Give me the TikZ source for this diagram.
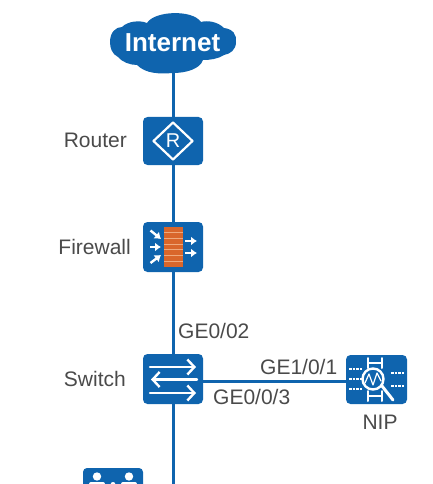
\documentclass[tikz,border=0pt]{standalone}
\usepackage{fontspec}
\setmainfont{Liberation Sans}
\usetikzlibrary{arrows.meta}
\definecolor{hw}{HTML}{0F64AE}
\definecolor{txt}{HTML}{4A4A4A}
\definecolor{brick}{HTML}{D9662B}
\definecolor{mortar}{HTML}{EFA97C}
\tikzset{
  px/.style={x=1pt,y=-1pt},
  link/.style={draw=hw,line width=3pt},
  devbox/.style={fill=hw,rounded corners=4.5pt,inner sep=0pt,minimum width=60pt,minimum height=49pt},
  lbl/.style={text=txt,font=\fontsize{21}{24}\selectfont,inner sep=0pt},
  glyph/.style={draw=white,line width=2pt,line cap=round,line join=round},
  garrow/.style={glyph,line width=2.4pt,-{Straight Barb[length=7pt,width=15pt,line width=2.4pt]}},
  farrow/.style={draw=white,line width=2.4pt,-{Latex[length=6pt,width=9pt]}},
  dotsline/.style={draw=white,line width=2.6pt,dash pattern=on 2.6pt off 1pt}
}
\begin{document}
\begin{tikzpicture}[px]
\useasboundingbox (0,0) rectangle (432,484);
% cloud
\fill[hw] (110,42) .. controls (110,32) and (116,27) .. (122,27)
  .. controls (128,21) and (140,20) .. (147,23)
  .. controls (154,11) and (192,9) .. (201,22)
  .. controls (208,20) and (218,22) .. (224,28)
  .. controls (233,29) and (237,35) .. (236,42)
  .. controls (236,50) and (230,54) .. (224,55)
  .. controls (218,59) and (210,60) .. (203,60)
  .. controls (200,69) and (186,73) .. (173,73)
  .. controls (160,74) and (146,74) .. (137,65)
  .. controls (130,65) and (122,62) .. (118,57)
  .. controls (112,54) and (110,48) .. (110,42) -- cycle;
\node[inner sep=0pt,text=white,font=\fontsize{26}{28}\selectfont\bfseries] (internet) at (172.5,42.5) {Internet};
% device boxes
\node[devbox,minimum height=48pt] (router) at (173,141) {};
\node[devbox,minimum height=50pt] (firewall) at (173,247) {};
\node[devbox,minimum height=50pt] (switch) at (173,379) {};
\node[devbox,minimum width=61pt] (nip) at (376.5,379.5) {};
\fill[hw,rounded corners=4pt] (83,468) rectangle (143,492);
\coordinate (bottom) at (173,484);
% connectors
\draw[link] (router |- internet.south) -- (router);
\draw[link] (router) -- (firewall);
\draw[link] (firewall) -- (switch);
\draw[link] (switch) -- (bottom);
\draw[link] (switch.east |- 0,381) -- (nip.west |- 0,381);
% router glyph
\draw[glyph,line width=2.2pt] (173,122.5) -- (192.5,141) -- (173,159.5) -- (153.5,141) -- cycle;
\node[inner sep=0pt,text=white,font=\fontsize{20}{22}\selectfont] (rletter) at (173,141) {R};
\node[lbl,anchor=east] (routerl) at (127,140) {Router};
% firewall glyph
\fill[brick] (164,227) rectangle (183,267);
\foreach \y in {232.7,238.4,244.1,249.8,255.5,261.2}{\draw[mortar,line width=.9pt] (164,\y) -- (183,\y);}
\draw[farrow] (150.5,230.5) -- (161,239);
\draw[farrow] (150,247) -- (161,247);
\draw[farrow] (150.5,263) -- (161,255);
\draw[farrow] (185,241) -- (197,241);
\draw[farrow] (185,253) -- (197,253);
\node[lbl,anchor=east] (firewalll) at (131,247) {Firewall};
% switch glyph
\draw[garrow] (150,367) -- (196,367);
\draw[garrow] (197,379.5) -- (151,379.5);
\draw[garrow] (150,393) -- (196,393);
\node[lbl,anchor=east] (switchl) at (126,379) {Switch};
\node[lbl,anchor=west] (ge02) at (178,331) {GE0/02};
\node[lbl,anchor=west] (ge101) at (260,367) {GE1/0/1};
\node[lbl,anchor=west] (ge003) at (213,397) {GE0/0/3};
% NIP glyph
\foreach \y in {369,379,389}{\draw[dotsline] (349,\y) -- (362,\y);}
\foreach \y in {373,386}{\draw[dotsline] (391,\y) -- (404,\y);}
\draw[glyph] (368,358) -- (368,368) (382,358) -- (382,368) (368,363) -- (382,363);
\draw[glyph] (368,391) -- (368,401) (382,391) -- (382,401) (368,396) -- (382,396);
\draw[glyph,line width=2.4pt] (373,379) circle (10.5);
\draw[glyph,line width=1.2pt] (365,383) -- (369,374) -- (373,385) -- (377,373) -- (381,381);
\draw[glyph,line width=3pt] (382,386) -- (393,400);
\node[lbl,anchor=center] (nipl) at (380,422) {NIP};
% bottom device glyph
\foreach \x in {97,129}{
 \fill[white] (\x,476.5) circle (4.2);
 \fill[white,rounded corners=2pt] (\x-8,482) rectangle (\x+8,490);}
\fill[white] (113,484.5) circle (2.5);
\end{tikzpicture}
\end{document}
